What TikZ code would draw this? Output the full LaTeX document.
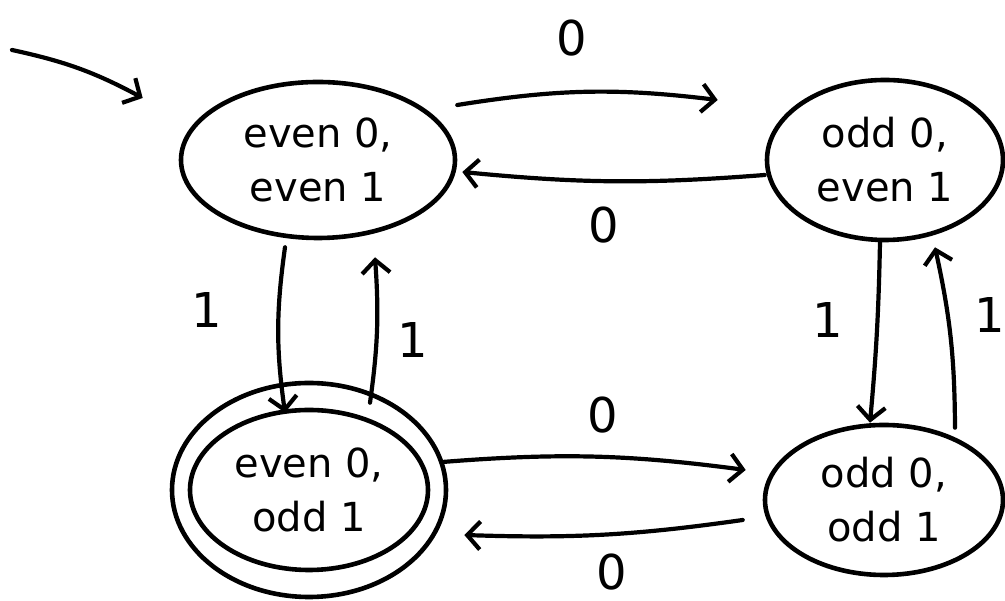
\documentclass[tikz,border=0pt]{standalone}
\usepackage{fontspec}
\setmainfont{DejaVu Sans}
\usetikzlibrary{shapes.geometric,arrows.meta}
\begin{document}
\begin{tikzpicture}[x=1pt,y=1pt,
  st/.style={draw, ellipse, line width=4.6pt, inner sep=0pt, align=center,
    font=\fontsize{40}{54}\selectfont},
  arr/.style={line width=4.2pt, line cap=round,
    -{Straight Barb[length=13pt,width=28pt,line width=4.2pt]}},
  lbl/.style={font=\fontsize{48}{48}\selectfont, inner sep=0pt}]
\useasboundingbox (0,0) rectangle (1005,601);
% states
\node[st, minimum width=274pt, minimum height=156pt] (A) at (318,441) {even 0,\\even 1};
\node[st, minimum width=236pt, minimum height=160pt] (B) at (885,441) {odd 0,\\even 1};
\node[st, minimum width=238pt, minimum height=160pt] (C) at (309,111) {even 0,\\odd 1};
\draw[line width=4.6pt] (C.center) ellipse [x radius=137pt, y radius=107pt];
\node[st, minimum width=238pt, minimum height=150pt] (D) at (884,101) {odd 0,\\odd 1};
% start
\coordinate (s) at (12,551);
\draw[arr] (s) to[bend left=8] ([shift={(-36pt,62pt)}]A.west);
% transitions
\draw[arr] ([yshift=55pt]A.east) to[bend left=8] ([shift={(-47pt,60pt)}]B.west);
\draw[arr] ([yshift=-15pt]B.west) to[bend left=5] ([shift={(5pt,-12pt)}]A.east);
\draw[arr] ([shift={(-33pt,-7pt)}]A.south) to[bend right=8] ([shift={(-24pt,-5pt)}]C.north);
\draw[arr] ([shift={(61pt,5pt)}]C.north) to[bend right=6] ([shift={(57pt,-17pt)}]A.south);
\draw[arr] ([xshift=-5pt]B.south) to[bend left=2] ([xshift=-14pt]D.north);
\draw[arr] ([shift={(71pt,-5pt)}]D.north) to[bend right=6] ([shift={(50pt,-5pt)}]B.south);
\draw[arr] ([shift={(12pt,28pt)}]C.east) to[bend left=6] ([shift={(-17pt,30pt)}]D.west);
\draw[arr] ([shift={(-20pt,-20pt)}]D.west) to[bend left=5] ([shift={(34pt,-45pt)}]C.east);
% labels
\node[lbl] (l1) at (572,563) {0};
\node[lbl] (l2) at (604,376) {0};
\node[lbl] (l3) at (207,291) {1};
\node[lbl] (l4) at (413,261) {1};
\node[lbl] (l5) at (828,281) {1};
\node[lbl] (l6) at (990,286) {1};
\node[lbl] (l7) at (603,186) {0};
\node[lbl] (l8) at (612,29) {0};
\end{tikzpicture}
\end{document}
